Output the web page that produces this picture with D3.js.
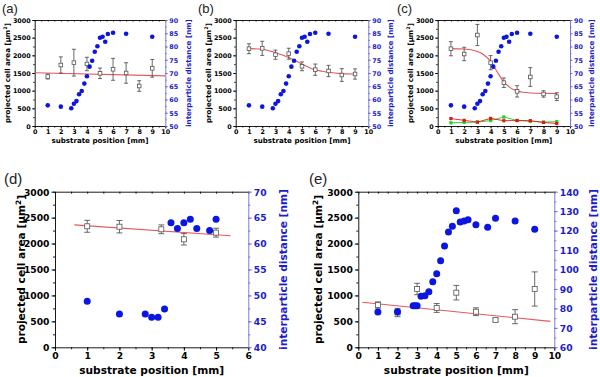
<!DOCTYPE html>
<html lang="en">
<head>
<meta charset="utf-8">
<title>Cell area vs substrate position</title>
<script src="https://d3js.org/d3.v7.min.js"></script>
<style>
  body { margin: 0; background: #fff; }
  svg { display: block; }
</style>
</head>
<body>
<div id="chart"></div>
<script>
// ---- data ----
// interparticle distance, identical gradient for panels a-c
var distX = [1, 2, 2.8, 3, 3.2, 3.4, 3.6, 3.8, 4, 4.2, 4.4, 4.6, 4.8, 5, 5.2, 5.4, 5.6, 6, 7, 9];
var distABC = [57.8, 57.3, 56.7, 58.4, 59.4, 62.0, 63.2, 66.0, 68.8, 72.4, 74.6, 78.0, 80.1, 83.3, 83.7, 81.8, 84.7, 85.2, 84.8, 83.7];

var posX = [1, 2, 3, 4, 5, 6, 7, 8, 9];
var areaA = [1400, 1726, 1792, 1755, 1491, 1604, 1500, 1132, 1632];
var errA = [70, 230, 380, 190, 150, 310, 290, 150, 250];
var fitAX = [0, 10];
var fitA = [1505, 1420];

var areaB = [2187, 2198, 2018, 2046, 1689, 1594, 1557, 1443, 1472];
var errB = [140, 200, 130, 155, 125, 160, 160, 180, 145];
var fitBX = [1, 2, 3, 4, 5, 6, 7, 8, 9];
var fitB = [2190, 2170, 2075, 1940, 1750, 1590, 1520, 1482, 1470];

var areaC = [2187, 2038, 2575, 1792, 1226, 980, 1387, 906, 830];
var errC = [200, 190, 300, 200, 135, 160, 265, 90, 110];
var fitCX = [1, 2, 3, 3.5, 4, 4.5, 5, 5.5, 6, 7, 8, 9];
var fitC = [2190, 2180, 2110, 2010, 1830, 1530, 1250, 1080, 990, 935, 922, 920];
var redC = [210, 160, 110, 215, 150, 155, 150, 100, 70];
var greenC = [90, 100, 110, 155, 255, 155, 135, 110, 125];

var distDX = [1, 2, 2.8, 3, 3.2, 3.4, 3.6, 3.8, 4, 4.2, 4.4, 4.8, 5];
var distD = [48.9, 46.4, 46.4, 45.8, 45.8, 47.4, 64.0, 62.9, 64.0, 64.7, 62.9, 62.5, 64.7];
var areaDX = [1, 2, 3.3, 4, 5];
var areaD = [2333, 2325, 2275, 2082, 2210];
var errD = [115, 120, 85, 110, 85];
var fitDX = [0.6, 5.45];
var fitD = [2360, 2150];

var distEX = [1, 2, 2.8, 2.9, 3, 3.2, 3.4, 3.6, 3.8, 4, 4.2, 4.4, 4.6, 4.8, 5, 5.2, 5.4, 5.6, 6, 6.6, 7, 8, 9];
var distE = [78.1, 78.3, 81.4, 81.4, 81.4, 86.2, 86.5, 88.6, 93.7, 97.8, 104.5, 112.1, 119.3, 122.2, 130.2, 124.4, 124.9, 125.6, 123.0, 121.7, 126.3, 124.9, 120.7];
var areaE = [815, 670, 1124, 758, 1053, 686, 526, 590, 1124];
var errE = [60, 80, 110, 85, 140, 75, 30, 135, 330];
var fitEX = [0.2, 9.8];
var fitE = [868, 500];

var panelLabels = ["(a)", "(b)", "(c)", "(d)", "(e)"];

// ---- styling ----
var blue = "#0b16e0", blueText = "#1d1dc8", blueAxis = "#6c6cd6";
var red = "#e5585c";

var svg = d3.select("#chart").append("svg")
  .attr("width", 600).attr("height", 377);

function zip(xs, ys) { return xs.map(function (v, i) { return [v, ys[i]]; }); }

function drawPanel(p) {
  var x = d3.scaleLinear().domain([0, p.xMax]).range([p.left, p.right]);
  var yL = d3.scaleLinear().domain([0, 3000]).range([p.bottom, p.top]);
  var yR = d3.scaleLinear().domain(p.rDomain).range([p.bottom, p.top]);

  var g = svg.append("g")
    .attr("font-family", "DejaVu Sans")
    .attr("font-weight", "bold");

  function style(sel, color, size) {
    sel.selectAll("path,line").attr("stroke", color).attr("stroke-width", 0.9);
    sel.selectAll("text").attr("fill", color).attr("font-size", size)
      .attr("font-family", "DejaVu Sans").attr("font-weight", "bold");
  }

  // bottom
  var bMinor = g.append("g").attr("transform", "translate(0," + p.bottom + ")")
    .call(d3.axisBottom(x).tickValues(d3.range(0, p.xMax + 0.01, 0.5)).tickSize(p.minor).tickSizeOuter(0).tickFormat(""));
  bMinor.select(".domain").remove();
  var bMajor = g.append("g").attr("transform", "translate(0," + p.bottom + ")")
    .call(d3.axisBottom(x).tickValues(d3.range(0, p.xMax + 1, 1)).tickSize(p.major).tickSizeOuter(0).tickPadding(p.xPad).tickFormat(d3.format("d")));
  style(bMinor, "#000", p.tick); style(bMajor, "#000", p.tick);

  // top (inward ticks)
  var tAx = g.append("g").attr("transform", "translate(0," + p.top + ")")
    .call(d3.axisTop(x).tickValues(d3.range(0, p.xMax + 0.01, 0.5)).tickSize(-p.minor).tickSizeOuter(0).tickFormat(""));
  style(tAx, "#000", p.tick);

  // left
  var lMinor = g.append("g").attr("transform", "translate(" + p.left + ",0)")
    .call(d3.axisLeft(yL).tickValues(d3.range(0, 3001, 250)).tickSize(p.minor).tickSizeOuter(0).tickFormat(""));
  lMinor.select(".domain").remove();
  var lMajor = g.append("g").attr("transform", "translate(" + p.left + ",0)")
    .call(d3.axisLeft(yL).tickValues(d3.range(0, 3001, 500)).tickSize(p.major).tickSizeOuter(0).tickPadding(p.yPad).tickFormat(d3.format("d")));
  style(lMinor, "#000", p.tick); style(lMajor, "#000", p.tick);
  lMajor.selectAll("text").attr("dy", "0.36em");

  // right (blue)
  var rMinor = g.append("g").attr("transform", "translate(" + p.right + ",0)")
    .call(d3.axisRight(yR).tickValues(d3.range(p.rDomain[0], p.rDomain[1] + 0.01, p.rStep / 2)).tickSize(p.minor).tickSizeOuter(0).tickFormat(""));
  rMinor.select(".domain").remove();
  var rMajor = g.append("g").attr("transform", "translate(" + p.right + ",0)")
    .call(d3.axisRight(yR).tickValues(d3.range(p.rDomain[0], p.rDomain[1] + 0.01, p.rStep)).tickSize(p.major).tickSizeOuter(0).tickPadding(p.yPad).tickFormat(d3.format("d")));
  style(rMinor, blueAxis, p.tick); style(rMajor, blueAxis, p.tick);
  rMajor.selectAll("text").attr("fill", blueText).attr("dy", "0.36em");

  // axis titles
  g.append("text")
    .attr("x", (p.left + p.right) / 2).attr("y", p.xTitleY)
    .attr("text-anchor", "middle").attr("font-size", p.title)
    .text("substrate position [mm]");

  var lt = g.append("text")
    .attr("transform", "translate(" + p.yTitleL + "," + (p.top + p.bottom) / 2 + ") rotate(-90)")
    .attr("text-anchor", "middle").attr("font-size", p.title);
  lt.append("tspan").text("projected cell area [µm");
  lt.append("tspan").attr("dy", -p.title * 0.4).attr("font-size", p.title * 0.7).text("2");
  lt.append("tspan").attr("dy", p.title * 0.4).text("]");

  g.append("text")
    .attr("transform", "translate(" + p.yTitleR + "," + (p.top + p.bottom) / 2 + ") rotate(-90)")
    .attr("text-anchor", "middle").attr("font-size", p.title).attr("fill", blueText)
    .text("interparticle distance [nm]");

  // panel label
  svg.append("text").attr("x", p.labX).attr("y", p.labY)
    .attr("font-family", "Liberation Sans").attr("font-size", p.labSize)
    .attr("fill", "#222").text(p.label);

  // fit line
  var line = d3.line().x(function (d) { return x(d[0]); }).y(function (d) { return yL(d[1]); });
  g.append("path").datum(zip(p.fitX, p.fit))
    .attr("d", line.curve(d3.curveMonotoneX))
    .attr("fill", "none").attr("stroke", red).attr("stroke-width", 1.1);

  // extra red / green series (panel c)
  if (p.extra) {
    p.extra.forEach(function (s) {
      var pts = zip(p.areaX, s.values);
      g.append("path").datum(pts)
        .attr("d", d3.line().x(function (d) { return x(d[0]); }).y(function (d) { return yL(d[1]); }))
        .attr("fill", "none").attr("stroke", s.color).attr("stroke-width", 0.9);
      g.selectAll(null).data(pts).enter().append("rect")
        .attr("x", function (d) { return x(d[0]) - 1.6; })
        .attr("y", function (d) { return yL(d[1]) - 1.6; })
        .attr("width", 3.2).attr("height", 3.2)
        .attr("fill", s.color);
    });
  }

  // error bars and open squares
  var pts = p.areaX.map(function (v, i) { return { x: v, y: p.area[i], e: p.err[i] }; });
  var eb = g.append("g").attr("stroke", "#444").attr("stroke-width", 0.8);
  pts.forEach(function (d) {
    var cx = x(d.x);
    eb.append("line").attr("x1", cx).attr("x2", cx).attr("y1", yL(d.y - d.e)).attr("y2", yL(d.y + d.e));
    eb.append("line").attr("x1", cx - p.cap).attr("x2", cx + p.cap).attr("y1", yL(d.y - d.e)).attr("y2", yL(d.y - d.e));
    eb.append("line").attr("x1", cx - p.cap).attr("x2", cx + p.cap).attr("y1", yL(d.y + d.e)).attr("y2", yL(d.y + d.e));
  });
  g.selectAll(null).data(pts).enter().append("rect")
    .attr("x", function (d) { return x(d.x) - p.sq / 2; })
    .attr("y", function (d) { return yL(d.y) - p.sq / 2; })
    .attr("width", p.sq).attr("height", p.sq)
    .attr("fill", "#fff").attr("stroke", "#555").attr("stroke-width", 0.8);

  // interparticle distance dots
  g.selectAll(null).data(zip(p.distX, p.dist)).enter().append("circle")
    .attr("cx", function (d) { return x(d[0]); })
    .attr("cy", function (d) { return yR(d[1]); })
    .attr("r", p.dot).attr("fill", blue);
}

var top1 = { top: 20, bottom: 126, xMax: 10, rDomain: [50, 90], rStep: 5,
  major: 2.5, minor: 1.5, xPad: 1, yPad: 1.5, tick: 6.4, title: 7.1, xTitleY: 142.5,
  cap: 2, sq: 3.6, dot: 2.3, labY: 13, labSize: 13, distX: distX, dist: distABC, areaX: posX };

drawPanel(Object.assign({}, top1, { left: 34.7, right: 165.3, yTitleL: 10, yTitleR: 191,
  labX: 2, label: panelLabels[0], area: areaA, err: errA, fitX: fitAX, fit: fitA }));
drawPanel(Object.assign({}, top1, { left: 235.7, right: 368.3, yTitleL: 210.5, yTitleR: 392.5,
  labX: 198, label: panelLabels[1], area: areaB, err: errB, fitX: fitBX, fit: fitB }));
drawPanel(Object.assign({}, top1, { left: 437.7, right: 570, yTitleL: 412.5, yTitleR: 594,
  labX: 397, label: panelLabels[2], area: areaC, err: errC, fitX: fitCX, fit: fitC,
  extra: [{ values: greenC, color: "#1fd21f" }, { values: redC, color: "#e01818" }] }));

var bot = { top: 191.7, bottom: 347.3, major: 3.5, minor: 2, xPad: 2, yPad: 2,
  tick: 9.2, title: 10.6, xTitleY: 373.5, cap: 3, sq: 5, dot: 3.5, labY: 184, labSize: 15, areaX: null };

drawPanel(Object.assign({}, bot, { left: 55, right: 248.3, xMax: 6, rDomain: [40, 70], rStep: 5,
  yTitleL: 25, yTitleR: 287, labX: 4, label: panelLabels[3],
  distX: distDX, dist: distD, areaX: areaDX, area: areaD, err: errD, fitX: fitDX, fit: fitD }));
drawPanel(Object.assign({}, bot, { left: 358.3, right: 554.3, xMax: 10, rDomain: [60, 140], rStep: 10,
  yTitleL: 322, yTitleR: 597, labX: 309, label: panelLabels[4],
  distX: distEX, dist: distE, areaX: posX, area: areaE, err: errE, fitX: fitEX, fit: fitE }));
</script>
</body>
</html>
